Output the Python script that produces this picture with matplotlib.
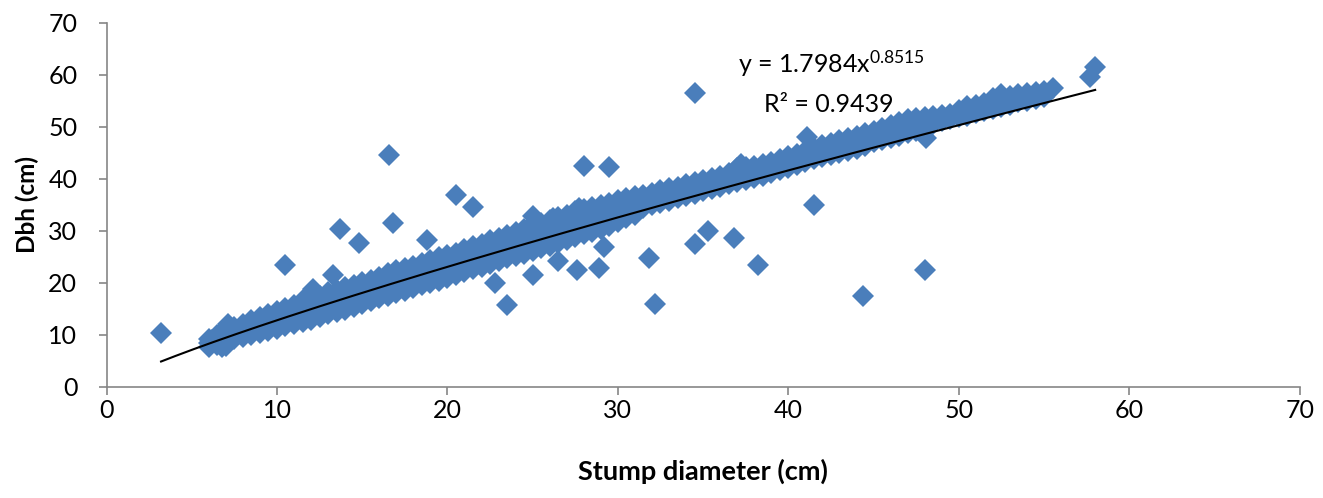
import numpy as np
import matplotlib.pyplot as plt

plt.rcParams['font.family'] = 'Lato'
plt.rcParams['mathtext.fontset'] = 'custom'
plt.rcParams['mathtext.rm'] = 'Lato'
plt.rcParams['mathtext.default'] = 'regular'

# dense band of trees along the curve: stump diameter and the spread of dbh
band_x = [6.0, 6.5, 7.0, 7.5, 8.0, 8.5, 9.0, 9.5, 10.0, 10.5,
          11.0, 11.5, 12.0, 12.5, 13.0, 13.5, 14.0, 14.5, 15.0, 15.5,
          16.0, 16.5, 17.0, 17.5, 18.0, 18.5, 19.0, 19.5, 20.0, 20.5,
          21.0, 21.5, 22.0, 22.5, 23.0, 23.5, 24.0, 24.5, 25.0, 25.5,
          26.0, 26.5, 27.0, 27.5, 28.0, 28.5, 29.0, 29.5, 30.0, 30.5,
          31.0, 31.5, 32.0, 32.5, 33.0, 33.5, 34.0, 34.5, 35.0, 35.5,
          36.0, 36.5, 37.0, 37.5, 38.0, 38.5, 39.0, 39.5, 40.0, 40.5,
          41.0, 41.5, 42.0, 42.5, 43.0, 43.5, 44.0, 44.5, 45.0, 45.5,
          46.0, 46.5, 47.0, 47.5, 48.0, 48.5, 49.0, 49.5, 50.0, 50.5,
          51.0, 51.5, 52.0, 52.5, 53.0, 53.5, 54.0, 54.5, 55.0]
band_lo = [7.6, 8.0, 7.9, 9.1, 9.6, 10.0, 10.4, 10.8, 11.0, 11.6,
           12.0, 12.5, 12.9, 13.4, 13.9, 14.4, 14.8, 15.4, 15.9, 16.5,
           17.0, 17.4, 18.1, 18.5, 19.0, 19.5, 20.0, 20.4, 21.0, 21.5,
           22.1, 22.6, 23.1, 23.6, 24.2, 24.7, 25.2, 25.6, 26.1, 26.6,
           27.1, 27.7, 28.3, 28.8, 29.3, 29.8, 30.4, 31.0, 31.6, 32.4,
           33.1, 34.4, 34.9, 35.3, 35.8, 36.2, 36.7, 37.1, 37.6, 38.0,
           38.5, 38.9, 39.3, 39.7, 40.2, 40.6, 41.1, 41.6, 42.1, 42.7,
           43.2, 43.7, 44.1, 44.6, 45.0, 45.4, 45.8, 46.3, 47.0, 47.4,
           47.9, 48.3, 48.8, 49.2, 49.6, 50.6, 51.1, 51.5, 51.9, 52.1,
           52.6, 53.0, 53.4, 53.8, 54.2, 54.7, 55.0, 55.4, 55.8]
band_mid = [8.4, 8.9, 9.6, 10.2, 10.8, 11.3, 11.8, 12.4, 12.9, 13.5,
            14.0, 14.6, 15.1, 15.6, 16.2, 16.7, 17.2, 17.7, 18.3, 18.8,
            19.2, 19.8, 20.4, 20.8, 21.3, 21.9, 22.3, 22.8, 23.3, 23.8,
            24.3, 24.9, 25.4, 25.9, 26.4, 26.9, 27.4, 28.0, 28.6, 29.1,
            29.6, 30.2, 30.8, 31.3, 31.8, 32.3, 32.8, 33.3, 33.8, 34.3,
            34.8, 35.2, 35.8, 36.3, 36.8, 37.2, 37.7, 38.1, 38.6, 39.0,
            39.5, 39.9, 40.4, 40.9, 41.3, 41.8, 42.2, 42.7, 43.2, 43.7,
            44.2, 44.7, 45.3, 45.8, 46.2, 46.6, 47.0, 47.5, 48.0, 48.5,
            49.0, 49.5, 50.0, 50.4, 50.7, 51.2, 51.6, 52.0, 52.6, 53.0,
            53.4, 53.8, 54.3, 54.8, 55.2, 55.6, 55.9, 56.1, 56.3]
band_hi = [9.2, 9.9, 11.2, 11.5, 12.0, 12.8, 13.4, 13.9, 14.5, 15.2,
           15.7, 16.7, 17.0, 17.4, 18.3, 18.6, 19.1, 19.5, 20.2, 20.6,
           21.1, 21.8, 22.5, 22.9, 23.2, 23.8, 24.3, 24.9, 25.3, 25.8,
           26.4, 27.0, 27.5, 28.3, 28.6, 29.2, 29.8, 30.3, 31.2, 31.4,
           32.0, 32.6, 33.1, 33.7, 34.2, 34.6, 35.0, 35.4, 35.9, 36.3,
           36.6, 36.9, 37.3, 37.8, 38.2, 38.5, 38.9, 39.4, 39.8, 40.2,
           40.6, 41.1, 42.0, 42.3, 42.4, 42.8, 43.3, 43.7, 44.3, 44.8,
           45.4, 46.0, 46.5, 46.9, 47.4, 47.8, 48.3, 48.7, 49.2, 49.8,
           50.4, 51.0, 51.4, 51.7, 51.9, 52.0, 52.2, 52.5, 53.3, 53.9,
           54.2, 54.5, 55.6, 56.2, 56.0, 56.3, 56.5, 56.7, 56.8]

# single trees standing apart from the band
out_x = [3.2, 6.2, 6.75, 7.1, 10.5, 12.1, 13.3, 13.7, 14.8, 16.6,
         16.8, 18.8, 20.5, 21.5, 22.8, 23.5, 25.0, 25.0, 26.2, 26.5,
         27.6, 27.7, 28.0, 28.9, 29.2, 29.5, 31.8, 32.2, 34.5, 34.5,
         35.3, 36.8, 37.2, 38.2, 41.1, 41.5, 44.4, 48.0, 48.1, 55.5,
         57.7, 58.0]
out_y = [10.3, 9.0, 7.7, 12.0, 23.4, 18.8, 21.5, 30.3, 27.7, 44.5,
         31.5, 28.3, 36.8, 34.5, 19.9, 15.7, 21.4, 32.8, 32.5, 24.2,
         22.4, 34.4, 42.5, 22.8, 26.8, 42.2, 24.7, 15.9, 56.5, 27.5,
         30.0, 28.6, 42.8, 23.5, 48.0, 34.9, 17.5, 22.5, 47.8, 57.5,
         59.5, 61.4]

# power trend line printed on the chart
trend_a = 1.7984
trend_b = 0.8515

stump = np.concatenate([band_x, band_x, band_x, out_x])
dbh = np.concatenate([band_lo, band_mid, band_hi, out_y])

fig = plt.figure(figsize=(13.23, 4.98), dpi=100)
ax = fig.add_axes([0.0805, 0.2235, 0.9019, 0.7309])

ax.plot(stump, dbh, linestyle='none', marker='D', ms=11, mew=0, color='#4A7EBB')

tx = np.linspace(stump.min(), stump.max(), 200)
ax.plot(tx, trend_a * tx ** trend_b, color='black', lw=1.5)

ax.text(37.04, 60.5, r'y = 1.7984$x^{0.8515}$', fontsize=18, ha='left', va='baseline')
ax.text(38.6, 52.8, 'R² = 0.9439', fontsize=18, ha='left', va='baseline')

ax.set_xlim(0, 70)
ax.set_ylim(0, 70)
ax.set_xticks(range(0, 71, 10))
ax.set_yticks(range(0, 71, 10))

for s in ['top', 'right']:
    ax.spines[s].set_visible(False)
for s in ['left', 'bottom']:
    ax.spines[s].set_color('#868686')
    ax.spines[s].set_linewidth(1.2)

ax.tick_params(direction='out', length=6, width=1.2, color='#868686', labelsize=18, labelcolor='black')
ax.tick_params(axis='y', pad=15)
ax.tick_params(axis='x', pad=3)

ax.set_xlabel('Stump diameter (cm)', fontsize=19.5, fontweight='bold', va='center')
ax.xaxis.set_label_coords(0.5, -0.2333)
ax.set_ylabel('Dbh (cm)', fontsize=17.5, fontweight='bold', va='center')
ax.yaxis.set_label_coords(-0.0666, 0.5)

fig.savefig('out.png', dpi=100)
